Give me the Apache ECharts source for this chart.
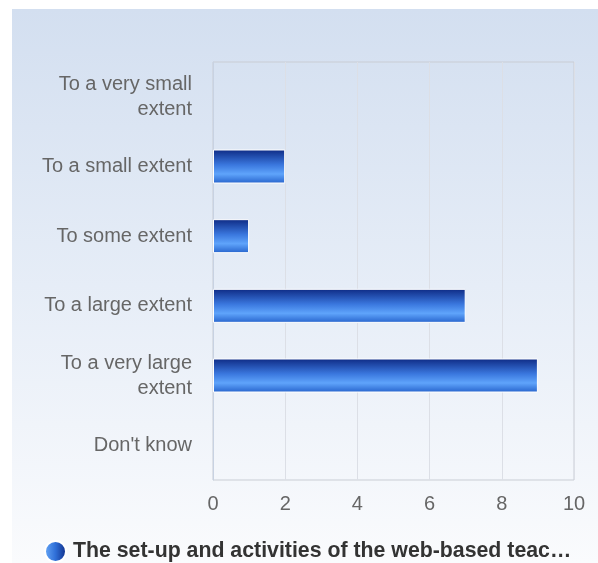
<!DOCTYPE html>
<html><head><meta charset="utf-8">
<script src="https://cdn.jsdelivr.net/npm/echarts@6/dist/echarts.min.js"></script>
<style>
html,body{margin:0;padding:0;background:#fff;}
#bg{position:absolute;left:12px;top:9px;width:586px;height:554px;background:linear-gradient(to bottom,#d3dff0 0%,#e6edf7 50%,#fafbfd 100%);}
#c{position:absolute;left:0;top:0;width:598px;height:563px;}
</style></head>
<body>
<div id="bg"></div>
<div id="c"></div>
<script>
const categories = ["To a very small\nextent","To a small extent","To some extent","To a large extent","To a very large\nextent","Don't know"];
const values = [0, 2, 1, 7, 9, 0];
const xTicks = [0, 2, 4, 6, 8, 10];
const seriesName = "The set-up and activities of the web-based teaching platform";

const chart = echarts.init(document.getElementById('c'), null, {renderer:'canvas'});
const barGrad = new echarts.graphic.LinearGradient(0,0,0,1,[
  {offset:0,color:'#0e2a84'},
  {offset:0.45,color:'#3a77de'},
  {offset:0.72,color:'#5fa4fb'},
  {offset:1,color:'#2663cc'}
]);
const iconGrad = new echarts.graphic.LinearGradient(0,0,1,0,[
  {offset:0,color:'#6aaaf8'},
  {offset:0.5,color:'#2f6fd8'},
  {offset:1,color:'#0e2a84'}
]);
const font = 'Liberation Sans, Arial, sans-serif';
chart.setOption({
  animation:false,
  grid:{left:213,right:24,top:62,bottom:83,containLabel:false,show:true,borderColor:'#c9cdd4',borderWidth:1,backgroundColor:'transparent'},
  xAxis:{type:'value',min:xTicks[0],max:xTicks[xTicks.length-1],interval:2,
    axisLine:{show:false},axisTick:{show:false},
    splitLine:{show:true,lineStyle:{color:'#dcdfe6',width:1}},
    axisLabel:{color:'#666',fontSize:20,fontFamily:font,margin:14}},
  yAxis:{type:'category',data:categories,inverse:true,
    axisLine:{show:true,lineStyle:{color:'#c8d2e2'}},axisTick:{show:false},
    axisLabel:{color:'#666',fontSize:20,fontFamily:font,margin:21,align:'right',lineHeight:25}},
  legend:{top:535,left:39,itemWidth:21,itemHeight:21,itemGap:6,icon:'circle',
    data:[{name:seriesName,itemStyle:{color:iconGrad}}],
    textStyle:{color:'#333',fontSize:21.3,fontWeight:'bold',fontFamily:font,width:508,overflow:'truncate',ellipsis:'…',padding:[0,0,0,2]}},
  series:[{name:seriesName,type:'bar',barWidth:34,
    data:values.map(v => v === 0 ? {value:v, itemStyle:{borderWidth:0}} : v),
    itemStyle:{color:barGrad,borderColor:'#ffffff',borderWidth:1}}]
});
</script>
</body></html>
